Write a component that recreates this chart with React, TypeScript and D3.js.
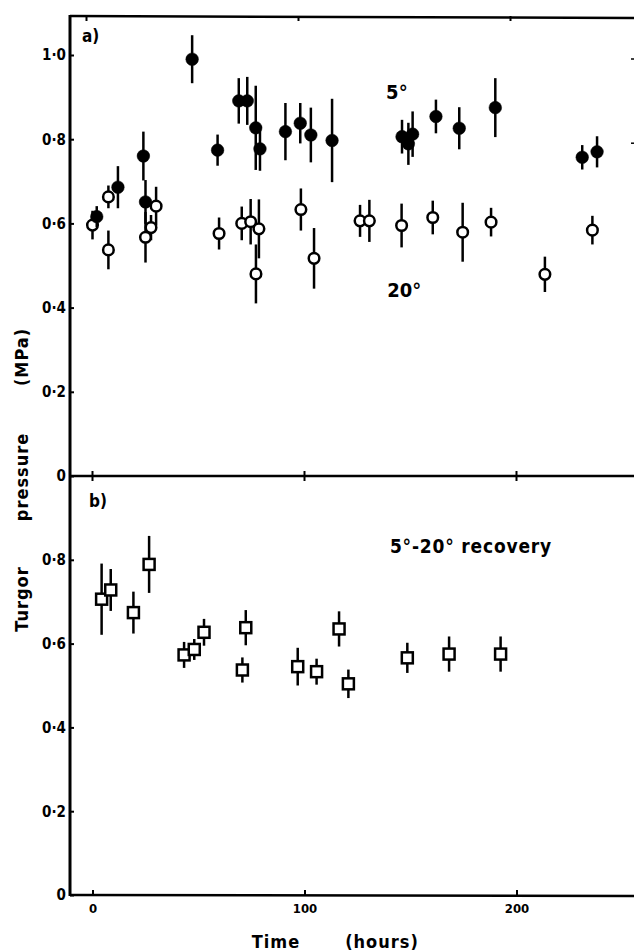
import React, { useEffect, useRef } from 'react';
import * as d3 from 'd3';

// a) 5° plants, filled circles
const coldTimes = [2, 12, 24, 25, 47, 59, 69, 73, 77, 79, 91, 98, 103, 113, 146, 149, 151, 162, 173, 190, 231, 238];
const coldValues = [0.616, 0.686, 0.76, 0.651, 0.99, 0.774, 0.891, 0.891, 0.827, 0.777, 0.818, 0.838, 0.81, 0.797, 0.806, 0.789, 0.812, 0.854, 0.826, 0.875, 0.757, 0.77];
const coldErrors = [0.025, 0.05, 0.058, 0.052, 0.057, 0.037, 0.054, 0.057, 0.1, 0.052, 0.068, 0.048, 0.065, 0.099, 0.04, 0.05, 0.054, 0.04, 0.05, 0.07, 0.029, 0.037];

// a) 20° plants, open circles
const warmTimes = [0, 7.5, 7.5, 25, 27.6, 30, 59.7, 70.4, 74.6, 78.5, 77.1, 98.3, 104.5, 126.2, 130.6, 145.8, 160.5, 174.6, 188, 213.4, 235.8];
const warmValues = [0.596, 0.663, 0.537, 0.567, 0.59, 0.641, 0.576, 0.6, 0.604, 0.587, 0.48, 0.633, 0.517, 0.606, 0.606, 0.595, 0.614, 0.579, 0.603, 0.479, 0.584];
const warmErrors = [0.034, 0.027, 0.046, 0.06, 0.03, 0.046, 0.038, 0.04, 0.054, 0.07, 0.07, 0.05, 0.072, 0.038, 0.05, 0.052, 0.04, 0.07, 0.034, 0.042, 0.034];

// b) 5°-20° recovery, open squares
const recoveryTimes = [4.3, 8.6, 19.3, 26.7, 43.2, 48, 52.6, 72.3, 70.7, 96.8, 105.7, 116.3, 120.7, 148.5, 168.2, 192.5];
const recoveryValues = [0.706, 0.728, 0.674, 0.789, 0.573, 0.586, 0.627, 0.638, 0.537, 0.545, 0.533, 0.635, 0.504, 0.566, 0.575, 0.575];
const recoveryErrors = [0.085, 0.05, 0.05, 0.068, 0.031, 0.025, 0.032, 0.042, 0.03, 0.045, 0.031, 0.042, 0.034, 0.036, 0.042, 0.042];

const timeTicks = [0, 100, 200];
const topPressureTicks = [0, 0.2, 0.4, 0.6, 0.8, 1.0];
const bottomPressureTicks = [0, 0.2, 0.4, 0.6, 0.8];

const FONT = "'DejaVu Sans Condensed', 'Liberation Sans Narrow', 'DejaVu Sans', sans-serif";

const App = () => {
  const svgRef = useRef<SVGSVGElement>(null);

  useEffect(() => {
    const W = 634;
    const H = 952;
    const left = 70;
    const topBorder = 16;

    const svg = d3.select(svgRef.current).attr('width', W).attr('height', H);
    svg.selectAll('*').remove();

    const x = d3.scaleLinear().domain([0, 200]).range([92.5, 516.5]);
    const yTop = d3.scaleLinear().domain([0, 1]).range([476, 55]);
    const yBot = d3.scaleLinear().domain([0, 1]).range([895, 476]);

    const fmt = (d: number) => (d === 0 ? '0' : d3.format('.1f')(d).replace('.', '·'));

    // frame lines
    svg.append('line').attr('x1', left).attr('x2', left).attr('y1', topBorder - 1).attr('y2', yBot(0) + 1)
      .attr('stroke', '#000').attr('stroke-width', 3);
    svg.append('line').attr('x1', left).attr('x2', W).attr('y1', topBorder).attr('y2', topBorder + 2)
      .attr('stroke', '#000').attr('stroke-width', 2.5);
    svg.append('line').attr('x1', left).attr('x2', W).attr('y1', yTop(0)).attr('y2', yTop(0))
      .attr('stroke', '#000').attr('stroke-width', 2.5);

    // top border ticks (inward)
    svg.selectAll('.ttick').data(timeTicks).enter().append('line')
      .attr('x1', d => x(d) - 6).attr('x2', d => x(d) - 6)
      .attr('y1', topBorder).attr('y2', topBorder + 5)
      .attr('stroke', '#000').attr('stroke-width', 2);

    // middle axis crosses
    svg.selectAll('.mtick').data(timeTicks).enter().append('line')
      .attr('x1', d => x(d)).attr('x2', d => x(d))
      .attr('y1', yTop(0) - 5).attr('y2', yTop(0) + 5)
      .attr('stroke', '#000').attr('stroke-width', 2);

    // right axis ticks, cut at the edge
    svg.selectAll('.rtick').data([1.0, 0.8]).enter().append('line')
      .attr('x1', W - 3).attr('x2', W).attr('y1', d => yTop(d) + 4).attr('y2', d => yTop(d) + 4)
      .attr('stroke', '#000').attr('stroke-width', 1.5);

    // y axes
    const styleAxis = (g: any) => {
      g.select('.domain').remove();
      g.selectAll('.tick line').attr('stroke', '#000').attr('stroke-width', 2);
      g.selectAll('.tick text')
        .attr('fill', '#000')
        .style('font-family', FONT)
        .style('font-weight', 'bold');
    };

    svg.append('g').attr('transform', `translate(${left},0)`)
      .call(d3.axisLeft(yTop).tickValues(topPressureTicks).tickFormat(fmt as any).tickSizeInner(-4).tickSizeOuter(0).tickPadding(4))
      .call(styleAxis)
      .selectAll('.tick text').style('font-size', '15px');

    svg.append('g').attr('transform', `translate(${left},0)`)
      .call(d3.axisLeft(yBot).tickValues(bottomPressureTicks).tickFormat(fmt as any).tickSizeInner(-4).tickSizeOuter(0).tickPadding(4))
      .call(styleAxis)
      .selectAll('.tick text').style('font-size', '15px');

    // bottom x axis
    const xAxisG = svg.append('g').attr('transform', `translate(0,${yBot(0)})`)
      .call(d3.axisBottom(x).tickValues(timeTicks).tickFormat(d3.format('d') as any).tickSizeInner(-5).tickSizeOuter(0).tickPadding(9));
    xAxisG.select('.domain').remove();
    xAxisG.selectAll('.tick line').attr('stroke', '#000').attr('stroke-width', 2);
    xAxisG.selectAll('.tick text').attr('fill', '#000')
      .style('font-family', FONT).style('font-weight', 'bold').style('font-size', '13px');
    svg.append('line').attr('x1', left).attr('x2', W).attr('y1', yBot(0)).attr('y2', yBot(0) + 1)
      .attr('stroke', '#000').attr('stroke-width', 2.5);

    // error bars + markers
    const drawSeries = (times: number[], values: number[], errs: number[], y: any, kind: string) => {
      const data = times.map((t, i) => ({ t, v: values[i], e: errs[i] }));
      const g = svg.append('g');
      g.selectAll('line').data(data).enter().append('line')
        .attr('x1', d => x(d.t)).attr('x2', d => x(d.t))
        .attr('y1', d => y(d.v + d.e)).attr('y2', d => y(d.v - d.e))
        .attr('stroke', '#000').attr('stroke-width', 2.5);
      if (kind === 'square') {
        g.selectAll('rect').data(data).enter().append('rect')
          .attr('x', d => x(d.t) - 5.5).attr('y', d => y(d.v) - 5.5)
          .attr('width', 11).attr('height', 11)
          .attr('fill', '#fff').attr('stroke', '#000').attr('stroke-width', 2.5);
      } else {
        g.selectAll('circle').data(data).enter().append('circle')
          .attr('cx', d => x(d.t)).attr('cy', d => y(d.v))
          .attr('r', kind === 'filled' ? 6.3 : 5.3)
          .attr('fill', kind === 'filled' ? '#000' : '#fff')
          .attr('stroke', '#000').attr('stroke-width', kind === 'filled' ? 0.5 : 2.5);
      }
    };

    drawSeries(warmTimes, warmValues, warmErrors, yTop, 'open');
    drawSeries(coldTimes, coldValues, coldErrors, yTop, 'filled');
    drawSeries(recoveryTimes, recoveryValues, recoveryErrors, yBot, 'square');

    // annotations
    const label = (px: number, py: number, txt: string, size: number, anchor = 'start') =>
      svg.append('text').attr('x', px).attr('y', py).attr('text-anchor', anchor)
        .style('font-family', FONT).style('font-weight', 'bold').style('font-size', `${size}px`)
        .attr('fill', '#000').text(txt);

    label(82, 42, 'a)', 17);
    label(89, 507, 'b)', 17);
    label(x(138.5), yTop(0.895), '5°', 20);
    label(x(139), yTop(0.425), '20°', 20);
    label(x(140.3), yBot(0.817), '5°-20°  recovery', 19).attr('letter-spacing', 0.8);

    label(276, 948, 'Time', 18, 'middle').attr('letter-spacing', 1);
    label(382, 948, '(hours)', 18, 'middle').attr('letter-spacing', 1);

    const yTitle = (cy: number, txt: string) =>
      svg.append('text').attr('transform', `translate(28,${cy}) rotate(-90)`).attr('text-anchor', 'middle')
        .style('font-family', FONT).style('font-weight', 'bold').style('font-size', '18px')
        .attr('letter-spacing', 1).attr('fill', '#000').text(txt);

    yTitle(357, '(MPa)');
    yTitle(477, 'pressure');
    yTitle(599, 'Turgor');
  }, []);

  return <svg ref={svgRef} style={{ position: 'absolute', left: 0, top: 0, background: '#fff' }}></svg>;
};

export default App;
